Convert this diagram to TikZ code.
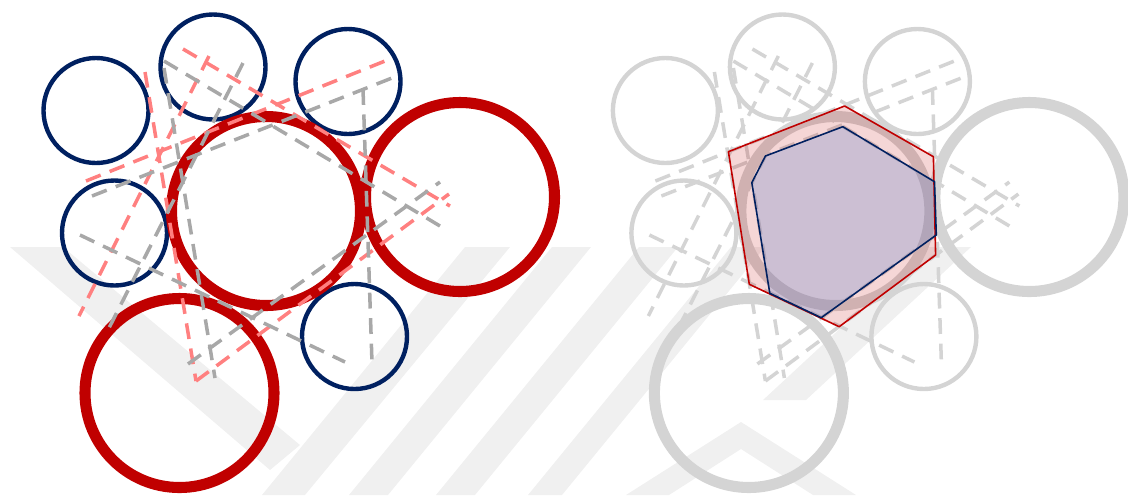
\documentclass[tikz,border=0pt]{standalone}
\usetikzlibrary{calc}
\definecolor{cnavy}{RGB}{0,32,96}
\definecolor{cred}{RGB}{192,0,0}
\definecolor{cpink}{RGB}{255,128,128}
\definecolor{cgrey}{RGB}{168,168,168}
\definecolor{cfade}{RGB}{212,212,212}
\definecolor{ccell}{RGB}{110,140,205}
\definecolor{cstripe}{RGB}{240,240,240}

% the seven discs round the middle one
\newcommand{\discs}{%
  \coordinate (tl) at (96,110.5);
  \coordinate (tm) at (213,67);
  \coordinate (tr) at (348,81.5);
  \coordinate (ml) at (114.5,233);
  \coordinate (br) at (354.5,336.5);
  \coordinate (mid) at (266,211);
  \coordinate (rt) at (460,197);
  \coordinate (bot) at (179.5,393);
  \draw[small] (tl) circle (52.5);
  \draw[small] (tm) circle (52.5);
  \draw[small] (tr) circle (52.5);
  \draw[small] (ml) circle (52.5);
  \draw[small] (br) circle (52.5);
  \draw[big] (mid) circle (94.5);
  \draw[big] (rt) circle (94.5);
  \draw[big] (bot) circle (94.5);
}
% power lines, two kinds
\newcommand{\axes}{%
  \draw[pinkaxis] (209,56) -- (79,316);
  \draw[pinkaxis] (145,72) -- (196,381);
  \draw[pinkaxis] (86,181) -- (385,61);
  \draw[pinkaxis] (183,49) -- (450,206);
  \draw[pinkaxis] (196,381) -- (449,194);
  \draw[greyaxis] (92,196) -- (392,78);
  \draw[greyaxis] (164,61) -- (440,226);
  \draw[greyaxis] (363,89) -- (372,363);
  \draw[greyaxis] (188,364) -- (440,182);
  \draw[greyaxis] (80,235) -- (345,362);
  \draw[greyaxis] (164,68) -- (215,378);
  \draw[greyaxis] (243,63) -- (109,328);
}

\begin{document}
\begin{tikzpicture}[
  x=0.02cm, y=0.02cm, yscale=-1,
  small/.style={draw=cnavy,line width=2.5pt},
  big/.style={draw=cred,line width=6.3pt},
  pinkaxis/.style={draw=cpink,line width=2pt,dash pattern=on 9pt off 5.5pt},
  greyaxis/.style={draw=cgrey,line width=2pt,dash pattern=on 9pt off 5.5pt},
  hexcell/.style={fill=cred,fill opacity=0.16,draw=none},
  polycell/.style={fill=ccell,fill opacity=0.3,draw=none},
  stripe/.style={fill=cstripe,draw=none}
]
  \useasboundingbox (0,0) rectangle (1128,495);

  % faint stripes behind everything
  \fill[stripe] (10,247) -- (63,247) -- (300,445) -- (270,470) -- cycle;
  \fill[stripe] (262,495) -- (305,495) -- (510,247) -- (465,247) -- cycle;
  \fill[stripe] (349,495) -- (388,495) -- (591,247) -- (552,247) -- cycle;
  \fill[stripe] (436,495) -- (475,495) -- (678,247) -- (639,247) -- cycle;
  \fill[stripe] (528,495) -- (562,495) -- (765,247) -- (731,247) -- cycle;
  \fill[stripe] (626,495) -- (741,422) -- (856,495) -- (813,495) -- (741,449) -- (669,495) -- cycle;
  \fill[stripe] (763,400) -- (806,400) -- (971,247) -- (928,247) -- cycle;

  % left: the discs and their lines
  \discs
  \axes

  % right: the same, faded, with the two cells on top
  \begin{scope}[xshift=11.39cm,
      small/.style={draw=cfade,line width=2.5pt},
      big/.style={draw=cfade,line width=6.3pt},
      pinkaxis/.style={draw=cfade,line width=2pt,dash pattern=on 9pt off 5.5pt},
      greyaxis/.style={draw=cfade,line width=2pt,dash pattern=on 9pt off 5.5pt}]
    \discs
    \axes
  \end{scope}

  \coordinate (h1) at (844.6,106);
  \coordinate (h2) at (933.4,156.7);
  \coordinate (h3) at (935.6,255);
  \coordinate (h4) at (839.2,326.7);
  \coordinate (h5) at (749.3,284.3);
  \coordinate (h6) at (728.4,151.7);
  \coordinate (p1) at (842.8,126.7);
  \coordinate (p2) at (934.5,181.7);
  \coordinate (p3) at (936.3,235);
  \coordinate (p4) at (821.2,317.7);
  \coordinate (p5) at (769.8,293.3);
  \coordinate (p6) at (751.8,182.7);
  \coordinate (p7) at (765.4,156);

  \fill[hexcell] (h1) -- (h2) -- (h3) -- (h4) -- (h5) -- (h6) -- cycle;
  \fill[polycell] (p1) -- (p2) -- (p3) -- (p4) -- (p5) -- (p6) -- (p7) -- cycle;
  \draw[cred,line width=0.9pt,line join=round] (h1) -- (h2) -- (h3) -- (h4) -- (h5) -- (h6) -- cycle;
  \draw[cnavy,line width=0.9pt,line join=round] (p1) -- (p2) -- (p3) -- (p4) -- (p5) -- (p6) -- (p7) -- cycle;
\end{tikzpicture}
\end{document}
